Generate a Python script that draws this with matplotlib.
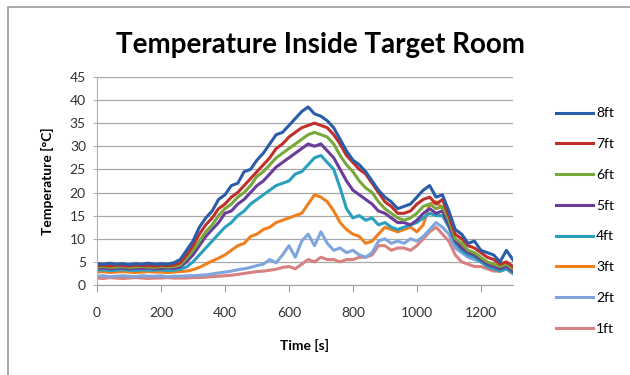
import matplotlib
matplotlib.use("Agg")
import matplotlib.pyplot as plt
from matplotlib.patches import Rectangle

time_s = [0, 20, 40, 60, 80, 100, 120, 140, 160, 180, 200, 220, 240,
          260, 280, 300, 320, 340, 360, 380, 400, 420, 440, 460, 480, 500,
          520, 540, 560, 580, 600, 620, 640, 660, 680, 700, 720, 740, 760,
          780, 800, 820, 840, 860, 880, 900, 920, 940, 960, 980, 1000, 1020,
          1040, 1060, 1080, 1100, 1120, 1140, 1160, 1180, 1200, 1220, 1240,
          1260, 1280, 1300]

temp_8ft = [4.6, 4.5, 4.7, 4.5, 4.6, 4.4, 4.6, 4.5, 4.7, 4.5, 4.6, 4.5, 4.8,
            5.5, 7.5, 9.5, 12.5, 14.5, 16.0, 18.5, 19.5, 21.5, 22.0, 24.5, 25.0, 27.0,
            28.5, 30.5, 32.5, 33.0, 34.5, 36.0, 37.5, 38.5, 37.0, 36.5, 35.5, 34.0, 31.5,
            29.0, 27.0, 26.0, 24.5, 22.5, 20.5, 19.0, 18.0, 16.5, 17.0, 17.5, 19.0, 20.5,
            21.5, 19.0, 19.5, 16.0, 12.0, 11.0, 9.0, 9.5, 7.5, 7.0, 6.5,
            5.0, 7.5, 5.5]
temp_7ft = [4.2, 4.3, 4.1, 4.3, 4.2, 4.1, 4.3, 4.2, 4.2, 4.1, 4.3, 4.2, 4.3,
            4.8, 6.5, 8.5, 11.0, 13.0, 14.5, 16.5, 17.5, 19.0, 20.0, 21.5, 23.0, 24.5,
            26.0, 27.5, 29.5, 30.5, 32.0, 33.0, 34.0, 34.5, 35.0, 34.5, 34.0, 32.5, 30.5,
            28.0, 26.5, 25.0, 24.0, 22.0, 20.0, 18.0, 17.0, 15.5, 15.5, 16.0, 17.5, 18.5,
            19.0, 17.5, 18.5, 15.0, 11.0, 10.0, 8.5, 8.0, 7.0, 6.0, 5.5,
            4.5, 5.0, 4.0]
temp_6ft = [3.9, 4.0, 3.8, 3.9, 4.0, 3.8, 3.9, 4.0, 3.9, 3.8, 4.0, 3.9, 4.0,
            4.3, 5.8, 7.5, 9.5, 11.5, 13.0, 15.0, 16.5, 17.5, 19.0, 20.0, 21.5, 23.5,
            24.5, 26.0, 27.5, 28.5, 29.5, 30.5, 31.5, 32.5, 33.0, 32.5, 32.0, 30.5, 28.0,
            26.0, 24.5, 22.5, 21.0, 20.0, 18.0, 16.5, 15.5, 14.5, 14.0, 14.5, 15.5, 17.0,
            17.5, 16.5, 17.0, 14.0, 10.0, 9.0, 7.5, 7.0, 6.0, 5.0, 4.5,
            4.0, 4.5, 3.5]
temp_5ft = [3.6, 3.7, 3.5, 3.6, 3.7, 3.5, 3.6, 3.6, 3.7, 3.5, 3.6, 3.7, 3.6,
            3.9, 5.0, 6.5, 8.5, 10.5, 12.0, 13.5, 15.5, 16.0, 17.5, 18.5, 20.0, 21.5,
            22.5, 24.0, 25.5, 26.5, 27.5, 28.5, 29.5, 30.5, 30.0, 30.5, 29.0, 27.5, 25.0,
            22.5, 20.5, 19.5, 18.5, 17.5, 16.0, 15.5, 14.5, 13.5, 13.5, 13.0, 14.0, 15.5,
            16.5, 15.5, 16.0, 13.0, 9.5, 8.0, 7.0, 6.5, 5.5, 4.5, 4.0,
            3.5, 4.0, 3.0]
temp_4ft = [3.2, 3.3, 3.1, 3.2, 3.3, 3.2, 3.1, 3.3, 3.2, 3.2, 3.3, 3.1, 3.2,
            3.4, 3.9, 5.0, 6.5, 8.0, 9.5, 11.0, 12.5, 13.5, 15.0, 16.0, 17.5, 18.5,
            19.5, 20.5, 21.5, 22.0, 22.5, 24.0, 24.5, 26.0, 27.5, 28.0, 26.5, 25.0, 21.0,
            16.5, 14.5, 15.0, 14.0, 14.5, 13.0, 13.5, 12.5, 12.0, 12.5, 13.0, 13.5, 14.5,
            15.5, 15.0, 15.0, 12.5, 9.0, 7.5, 6.5, 6.0, 5.0, 4.0, 3.5,
            3.0, 3.5, 2.5]
temp_3ft = [2.8, 2.9, 2.7, 2.8, 2.9, 2.8, 2.7, 2.8, 2.9, 2.8, 2.8, 2.7, 2.8,
            2.9, 3.0, 3.3, 3.8, 4.5, 5.2, 5.8, 6.5, 7.5, 8.5, 9.0, 10.5, 11.0,
            12.0, 12.5, 13.5, 14.0, 14.5, 15.0, 15.5, 17.5, 19.5, 19.0, 18.0, 16.0, 13.5,
            12.0, 11.0, 10.5, 9.0, 9.5, 11.0, 12.5, 12.0, 11.5, 12.0, 12.5, 11.5, 13.0,
            17.5, 18.0, 16.5, 15.0, 10.0, 8.5, 7.0, 6.5, 5.5, 4.0, 3.5,
            3.0, 3.5, 2.5]
temp_2ft = [1.9, 2.0, 1.8, 1.9, 2.0, 1.9, 1.8, 2.0, 1.9, 1.9, 2.0, 1.8, 1.9,
            1.9, 2.0, 2.0, 2.1, 2.2, 2.4, 2.6, 2.8, 3.0, 3.3, 3.5, 3.8, 4.2,
            4.5, 5.5, 4.8, 6.5, 8.5, 6.0, 9.5, 11.0, 8.5, 11.5, 9.0, 7.5, 8.0,
            7.0, 7.5, 6.5, 6.0, 7.0, 9.5, 10.0, 9.0, 9.5, 9.0, 10.0, 9.5, 10.5,
            12.0, 13.5, 12.5, 11.0, 8.0, 7.0, 6.0, 5.5, 5.0, 4.5, 4.0,
            3.5, 4.0, 3.5]
temp_1ft = [1.5, 1.4, 1.6, 1.5, 1.4, 1.5, 1.6, 1.5, 1.4, 1.5, 1.5, 1.6, 1.5,
            1.5, 1.5, 1.6, 1.6, 1.7, 1.8, 1.9, 2.0, 2.1, 2.3, 2.5, 2.7, 2.9,
            3.0, 3.2, 3.4, 3.8, 4.0, 3.5, 4.5, 5.5, 5.0, 6.0, 5.5, 5.5, 5.0,
            5.5, 5.5, 6.0, 6.0, 6.5, 8.5, 8.5, 7.5, 8.0, 8.0, 7.5, 8.5, 10.0,
            11.5, 12.5, 11.0, 9.5, 6.5, 5.0, 4.5, 4.0, 4.0, 3.5, 3.0,
            3.0, 3.5, 3.0]

labels = ["8ft", "7ft", "6ft", "5ft", "4ft", "3ft", "2ft", "1ft"]
series = [temp_8ft, temp_7ft, temp_6ft, temp_5ft, temp_4ft, temp_3ft, temp_2ft, temp_1ft]
colors = ["#2a5caa", "#c0302b", "#77a83a", "#6a3d9a",
          "#2aa0bf", "#f07f1e", "#7fa6dc", "#d98080"]

plt.rcParams["font.family"] = ["Lato", "DejaVu Sans"]

fig = plt.figure(figsize=(6.3, 3.75), dpi=100)
fig.patches.append(Rectangle((8 / 630, -0.02), 1.0, 1.0 - 7 / 375 + 0.02, transform=fig.transFigure,
                             fill=False, edgecolor="#9a9a9a", linewidth=1.2))
ax = fig.add_axes([0.154, 0.24, 0.66, 0.555])

# draw from 1ft up so the hotter curves sit on top
for vals, lab, col in reversed(list(zip(series, labels, colors))):
    ax.plot(time_s, vals, color=col, linewidth=2.2, label=lab)

ax.set_xlim(0, 1300)
ax.set_ylim(0, 45)
ax.set_xticks(range(0, 1201, 200))
ax.set_yticks(range(0, 46, 5))
ax.yaxis.grid(True, color="#a8a8a8", linewidth=0.9)
ax.set_axisbelow(True)
for side in ["top", "right"]:
    ax.spines[side].set_visible(False)
ax.spines["left"].set_color("#b0b0b0")
ax.spines["bottom"].set_color("#a0a0a0")
ax.tick_params(axis="x", direction="out", length=5, color="#a0a0a0", labelsize=10, labelcolor="#333333", pad=11)
ax.tick_params(axis="y", direction="out", length=3, color="#b0b0b0", labelsize=10, labelcolor="#333333", pad=5)

fig.text(0.508, 0.88, "Temperature Inside Target Room", fontsize=20, fontweight="bold",
         ha="center", va="center")
ax.set_xlabel("Time [s]", fontsize=10, fontweight="bold", labelpad=14)
ax.set_ylabel("Temperature [°C]", fontsize=10, fontweight="bold", labelpad=11)

handles, leg_labels = ax.get_legend_handles_labels()
ax.legend(handles[::-1], leg_labels[::-1], loc="upper left", bbox_to_anchor=(1.09, 0.88),
          frameon=False, fontsize=10, handlelength=2.65, handletextpad=0.25,
          labelspacing=1.35, borderaxespad=0)

fig.savefig("out.png", dpi=100)
plt.close(fig)
